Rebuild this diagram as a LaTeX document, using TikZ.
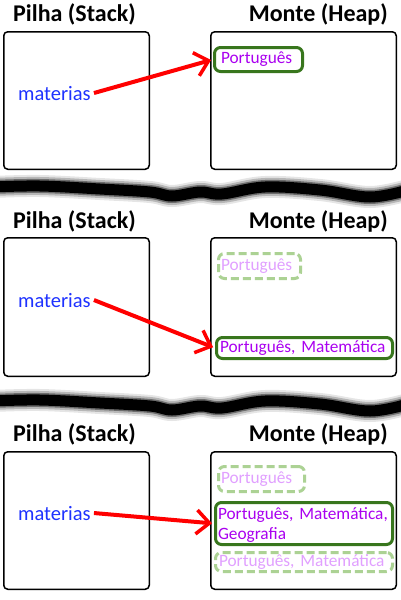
\documentclass[tikz,border=0pt]{standalone}
\usepackage{fontspec}
\setmainfont{Carlito}
\usetikzlibrary{arrows.meta}
\definecolor{matblue}{RGB}{30,50,255}
\definecolor{heappurple}{RGB}{170,0,240}
\definecolor{heapgreen}{RGB}{56,118,29}
\definecolor{ghostgreen}{RGB}{172,210,148}
\definecolor{ghostpurple}{RGB}{225,160,255}
\tikzset{
  titletext/.style={font=\fontsize{24}{28}\selectfont\bfseries, inner sep=0},
  panelbox/.style={draw=black, line width=1.5, rounded corners=4},
  mattext/.style={font=\fontsize{20.5}{24}\selectfont, text=matblue, inner sep=3, anchor=base west},
  heapbase/.style={line width=3, rounded corners=6, font=\fontsize{17.3}{20}\selectfont,
     align=left, inner ysep=0, text height=12, text depth=4},
  heapbox/.style={heapbase, draw=heapgreen, text=heappurple},
  ghostbox/.style={heapbase, draw=ghostgreen, text=ghostpurple, dash pattern=on 8 off 4},
  refarrow/.style={draw=red, line width=4, -{Straight Barb[length=13,width=24,line width=3.5]}},
  sep/.style={line cap=round, black}
}
\begin{document}
\begin{tikzpicture}[x=1pt,y=-1pt]
\useasboundingbox (0,0) rectangle (400,600);
\fill[white] (0,0) rectangle (400,600);

% separators
\foreach \dy in {0,214}{
  \foreach \w/\o in {22/0.10,18/0.2,14/0.4,11/1}{
    \draw[sep, line width=\w, opacity=\o] plot[smooth, tension=0.6] coordinates
      {(-8,187+\dy) (40,186+\dy) (100,189+\dy) (150,192+\dy) (172,196+\dy) (200,192+\dy) (222,194+\dy) (265,187+\dy) (320,190+\dy) (370,197+\dy) (408,190+\dy)};
  }
}

% ---------- panel 1 ----------
\node[titletext, anchor=base west] (t1a) at (13,21) {Pilha (Stack)};
\node[titletext, anchor=base east] (t1b) at (388,21) {Monte (Heap)};
\draw[panelbox] (3.75,31.75) rectangle (149.25,169.25);
\draw[panelbox] (210.75,31.75) rectangle (396.25,169.25);
\node[mattext] (m1) at (15,100) {materias};
\node[heapbox, minimum width=88, minimum height=24, text width=75, inner xsep=6.5] (p1) at (258.5,59.5) {Português};
\draw[refarrow, shorten >=2] (m1.east) -- (p1.west);

% ---------- panel 2 ----------
\node[titletext, anchor=base west] (t2a) at (13,228) {Pilha (Stack)};
\node[titletext, anchor=base east] (t2b) at (388,228) {Monte (Heap)};
\draw[panelbox] (3.75,237.75) rectangle (149.25,376.25);
\draw[panelbox] (210.75,237.75) rectangle (396.25,376.25);
\node[mattext] (m2) at (15,307) {materias};
\node[ghostbox, minimum width=82, minimum height=25, text width=77, inner xsep=2.5] (g2) at (259.5,266) {Português};
\node[heapbox, minimum width=176, minimum height=21, text width=169, inner xsep=3.5] (p2) at (304.5,348) {Português,\ Matemática};
\draw[refarrow, shorten >=2] (m2.east) -- (p2.west);

% ---------- panel 3 ----------
\node[titletext, anchor=base west] (t3a) at (13,441) {Pilha (Stack)};
\node[titletext, anchor=base east] (t3b) at (388,441) {Monte (Heap)};
\draw[panelbox] (3.75,451.75) rectangle (149.25,589.25);
\draw[panelbox] (210.75,451.75) rectangle (396.25,589.25);
\node[mattext] (m3) at (15,520) {materias};
\node[ghostbox, minimum width=86, minimum height=25, text width=81, inner xsep=2.5] (g3a) at (261.5,479) {Português};
\node[heapbox, minimum width=177, minimum height=42, text width=172, inner xsep=2.5, text height=14, text depth=22] (p3) at (304,523.5) {Português,\ Matemática,\\Geografia};
\node[ghostbox, minimum width=177, minimum height=19, text width=170, inner xsep=3.5] (g3b) at (304,562) {Português,\ Matemática};
\draw[refarrow, shorten >=2] (m3.east) -- (p3.west);
\end{tikzpicture}
\end{document}
